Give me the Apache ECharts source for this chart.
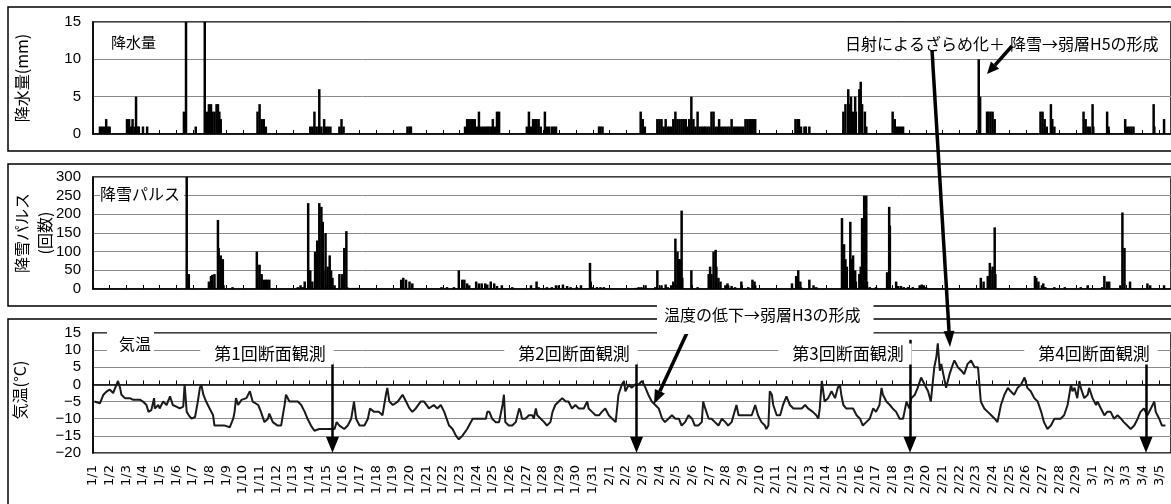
<!DOCTYPE html>
<html>
<head>
<meta charset="utf-8">
<script src="https://cdn.jsdelivr.net/npm/echarts@6/dist/echarts.min.js"></script>
<style>
	html,body{margin:0;padding:0;background:#fff;}
	#main{width:1171px;height:504px;}
</style>
</head>
<body>
<div id="main"></div>
<script>
// x is hours since 1/1 00:00, one tick per day
const dayLabels = ['1/1','1/2','1/3','1/4','1/5','1/6','1/7','1/8','1/9','1/10','1/11','1/12','1/13','1/14','1/15','1/16','1/17','1/18','1/19','1/20','1/21','1/22','1/23','1/24','1/25','1/26','1/27','1/28','1/29','1/30','1/31',
	'2/1','2/2','2/3','2/4','2/5','2/6','2/7','2/8','2/9','2/10','2/11','2/12','2/13','2/14','2/15','2/16','2/17','2/18','2/19','2/20','2/21','2/22','2/23','2/24','2/25','2/26','2/27','2/28','2/29',
	'3/1','3/2','3/3','3/4','3/5'];

// 降水量 (mm)
const precipHours = [10,13,16,19,22,24,
	49,52,55,57,60,62,65,66,72,78,
	131,134,148,161,164,167,170,172,175,178,180,182,184,
	237,240,243,246,249,
	313,316,319,322,325,326,329,333,336,339,342,
	355,358,361,
	453,456,458,
	536,539,542,545,547,550,553,556,559,562,565,568,570,573,576,579,582,585,
	625,628,631,634,637,639,642,645,651,654,657,661,664,667,
	729,731,734,
	789,792,795,
	813,816,819,822,825,828,830,833,836,839,842,845,848,851,854,857,859,862,865,868,
	871,874,877,880,882,885,888,891,894,897,900,902,905,908,911,914,917,920,923,925,
	928,931,934,937,940,943,946,948,951,954,
	1012,1015,1017,1020,1025,1027,1032,
	1081,1084,1088,1091,1092,1095,1098,1099,1104,1106,1108,1112,1114,
	1152,1155,1158,1161,1164,1167,
	1276,1278,
	1288,1290,1293,1296,1299,
	1365,1368,1371,1374,1380,1382,1385,
	1427,1430,1433,1436,1440,1441,
	1461,1463,
	1487,1490,1493,1496,1499,
	1528,1529,
	1543];
const precipValues = [1,1,1,2,1,1,
	2,2,1,2,1,5,1,1,1,1,
	3,20,1,20,3,4,4,3,3,4,4,3,2,
	3,4,2,2,1,
	1,1,3,1,1,6,1,2,1,1,1,
	1,2,1,
	1,1,1,
	1,2,2,2,2,2,1,3,1,1,1,1,1,1,2,1,3,3,
	1,3,1,2,2,2,2,1,3,1,1,1,1,1,
	1,1,1,
	3,2,1,
	2,2,2,1,2,1,1,1,2,3,2,2,2,2,2,1,2,5,2,1,
	3,1,1,1,1,1,1,3,3,1,1,2,1,1,1,1,1,2,1,1,
	1,1,1,1,2,2,2,2,2,2,
	2,2,2,1,1,1,1,
	3,4,6,4,5,3,5,3,6,7,4,3,1,
	3,2,1,1,1,1,
	10,5,
	3,3,3,3,2,
	3,3,2,1,4,2,1,
	3,2,1,1,4,1,
	3,1,
	2,1,1,1,1,
	4,1,
	2];

// 降雪パルス (回数)
const pulseHours = [135,138,
	167,170,172,175,180,181,184,187,188,201,
	236,237,240,243,246,249,251,254,
	295,299,302,305,310,313,316,320,323,326,329,331,332,335,338,341,343,345,348,355,359,362,365,366,369,374,378,382,
	444,447,451,456,460,502,510,520,527,532,535,539,542,552,556,560,565,568,573,578,582,589,604,
	631,639,642,654,661,667,671,677,683,688,697,703,716,717,720,726,731,736,
	782,786,790,796,810,813,819,825,828,833,836,839,842,844,846,848,849,
	862,871,
	887,889,891,894,897,898,901,904,911,914,915,920,925,934,944,950,953,954,
	1007,1013,1016,1019,1020,1032,1038,1042,
	1079,1082,1084,1086,1091,1092,1095,1098,1099,1104,1106,1108,1111,1114,1115,1119,1128,
	1144,1147,1148,1157,1160,1164,1168,1174,1181,1191,1194,1197,1200,
	1279,1283,1289,1292,1293,1296,1299,1300,
	1357,1359,1362,1367,1369,1372,1385,1400,
	1423,1433,1454,1457,1461,1464,
	1480,1483,1486,1494,1519,1523,1543];
const pulseValues = [400,40,
	20,35,38,40,185,110,90,80,10,5,
	100,65,65,40,25,25,25,25,
	5,10,5,20,230,50,20,100,130,230,220,180,50,150,60,90,50,30,10,40,40,110,155,5,3,3,3,3,
	25,30,25,20,15,5,5,5,50,25,25,15,10,20,15,15,15,12,20,15,8,10,5,
	10,20,5,5,5,10,10,12,8,5,5,10,70,20,5,5,5,5,
	3,5,5,10,5,50,10,12,5,10,20,135,100,80,80,210,30,
	50,5,
	40,60,40,100,105,60,30,20,10,15,10,8,5,20,5,25,20,10,
	15,35,50,20,5,25,10,5,
	190,120,80,60,180,80,90,50,20,40,60,190,250,250,20,5,5,
	45,220,170,20,8,8,5,5,5,10,12,10,5,
	30,20,35,70,50,60,165,40,
	35,30,20,10,15,5,5,5,
	5,10,5,35,20,20,
	10,205,110,20,15,10,10];

// 気温 (°C)
const tempHours = [2,10,15,20,24,29,34,36,39,41,46,53,58,68,72,77,80,84,88,89,
	94,96,101,106,111,115,120,125,130,132,135,138,142,147,151,154,156,159,163,168,
	173,175,180,185,190,197,202,204,206,209,214,221,226,230,238,242,247,252,254,259,
	266,271,276,278,283,288,295,300,305,309,314,319,326,336,343,348,351,355,362,367,
	372,376,379,384,391,396,399,405,412,417,422,424,427,432,439,
	446,451,456,460,465,472,477,484,491,496,501,506,513,518,523,527,532,539,547,556,
	566,568,571,575,580,585,590,592,594,599,604,609,614,616,618,623,628,633,635,638,
	640,645,650,654,659,662,666,671,676,681,685,690,695,700,707,712,714,719,724,729,
	733,738,743,748,753,757,762,765,767,772,776,781,786,791,793,796,800,805,810,815,
	820,824,829,834,839,844,848,853,858,863,867,872,877,879,882,887,891,896,901,906,
	911,915,920,927,930,935,939,944,949,954,958,963,968,970,973,975,
	978,980,985,990,994,999,1004,1009,1016,1021,1026,1030,1037,1042,1045,1047,1050,1054,1059,1064,
	1069,1073,1076,1078,1081,1085,1090,1095,1100,1105,1109,1114,1119,1124,1128,1133,1136,1138,1143,1148,
	1152,1157,1162,1167,1169,1172,1176,1179,1184,1188,1193,1198,1203,1207,1210,1212,1215,1217,1220,1222,
	1227,1229,1234,1239,1241,1246,1251,1255,1260,1265,1270,1275,1277,1279,1284,1289,1294,1299,1303,1308,
	1313,1318,1322,1327,1332,1337,1342,1346,1351,1356,1361,1366,1370,1375,1380,1385,1390,1394,1399,1404,
	1409,1411,1414,1418,1421,1423,1428,1433,1435,1440,1445,1447,1452,1457,1461,1466,1471,1476,1481,1485,
	1490,1495,1500,1505,1509,1514,1519,1524,1529,1531,1536,1540,1545];
const tempValues = [-5,-5.5,-3,-2,-1.5,-2.5,0,1,-1,-3,-4,-4,-4.5,-4.5,-5,-6,-8,-7.5,-4,-7,
	-6,-7,-5,-6,-3.5,-6,-6.5,-7,-6.5,0,-8,-9,-10,-9.5,-5,-1,0,-3,-5,-7,
	-9,-12,-12,-12,-12,-12.5,-10,-8,-4,-6,-4.5,-4,-2,-5,-6,-8,-11,-10,-8.5,-11,
	-12,-12,-6,-3,-5,-5,-5,-6,-8,-10,-12,-13.5,-13,-13,-13,-13,-11,-12,-13,-12,
	-10,-5,-10,-12,-12,-10,-7,-8,-8,-9,-3,-1,-5,-6,-5,
	-3,-5,-7,-8,-7,-5,-5,-7,-6,-7,-6,-8,-12,-13,-15,-16,-15,-13,-10,-10,
	-10,-8,-8,-10,-11,-11,-6,-3,-11,-12,-12,-11,-7,-8,-10,-10,-9,-9,-10,-7,
	-9,-10,-11,-12,-11,-8,-6,-5,-4,-5,-5,-7,-6,-7,-7,-5,-7,-8,-9,-9,
	-8,-7,-9,-10,-11,-3,0,1,-2,0,-1,0,0,1,1,-1,-3,-5,-6,-7,
	-10,-11,-10,-9,-10,-10,-12,-11,-9,-10,-12,-12,-11,-5,-7,-10,-10,-11,-12,-10,
	-11,-12,-11,-6,-9,-9,-9,-9,-9,-6,-9,-11,-12,-13,-12,-2,
	-3,-6,-9,-9,-6,-3.5,-6,-7,-7,-7,-6,-7,-8,-9,-10,-7,1,-5,-4,-2,
	-4,-1,0,-3,-6,-7,-7,-7,-9,-10,-12,-11,-10,-7,-8,-6,-1,-3,-5,-6,
	-7,-8,-10,-10,-8,-5,-7,-4,-3,-1,2,0,-2,-5,1,5,8,12,4,6,
	1,-1,3,6,7,5,4,3,6,7,5,5,0,-5,-7,-8,-9,-10,-11,-6,
	-3,-1,-2,-3,-1,0,2,-1,-2,-4,-5,-8,-11,-13,-12,-10,-10,-10,-9,-6,
	0,-2,-1,-4,1,-1,-4,-3,-1,-4,-6,-5,-7,-9,-8,-8,-10,-9,-10,-11,
	-12,-13,-12,-10,-8,-7,-9,-7,-5,-8,-10,-12,-12];

// 断面観測 (hour, arrow start temperature)
const surveyNames = ['第1回断面観測','第2回断面観測','第3回断面観測','第4回断面観測'];
const surveyHours = [345, 783, 1177, 1517];
const surveyTops = [6.5, 6.5, 13, 6.5];

const JP = '"Noto Sans CJK JP"';

function pairs(xs, ys){
	return xs.map(function(x, i){ return [x, ys[i]]; });
}

function arrow(x1, y1, x2, y2, lw, hl, hw){
	let a = Math.atan2(y2 - y1, x2 - x1);
	let bx = x2 - hl * Math.cos(a), by = y2 - hl * Math.sin(a);
	let px = -Math.sin(a) * hw / 2, py = Math.cos(a) * hw / 2;
	return [
		{type:'line', z:100, shape:{x1:x1, y1:y1, x2:bx, y2:by}, style:{stroke:'#000', lineWidth:lw}},
		{type:'polygon', z:100, shape:{points:[[x2, y2], [bx + px, by + py], [bx - px, by - py]]}, style:{fill:'#000'}}
	];
}

function txt(x, y, text, size, extra){
	let st = {text:text, font:size + 'px ' + JP, fill:'#000', textAlign:'left', textVerticalAlign:'middle'};
	Object.assign(st, extra || {});
	return {type:'text', z:101, x:x, y:y, style:st};
}

function xAxis(gi, showLabel){
	return {
		type:'value', gridIndex:gi, min:0, max:1553, interval:24,
		axisLine:{lineStyle:{color:'#000', width:1.5}},
		axisTick:{inside:true, length:4, lineStyle:{color:'#000'}},
		splitLine:{show:false},
		axisLabel:{
			show:showLabel, rotate:90, margin:12, fontSize:13, fontFamily:'DejaVu Sans', color:'#000',
			formatter:function(v){ return v % 24 === 0 ? (dayLabels[v / 24] || '') : ''; }
		}
	};
}

function yAxis(gi, min, max, step){
	return {
		type:'value', gridIndex:gi, min:min, max:max, interval:step,
		axisLine:{show:true, lineStyle:{color:'#000', width:1.5}},
		axisTick:{show:false},
		splitLine:{lineStyle:{color:'#8a8a8a', width:1}},
		axisLabel:{
			margin:12, fontSize:15, fontFamily:'Liberation Sans', color:'#000',
			formatter:function(v){ return String(v).replace('-', '\u2212'); }
		}
	};
}

let chart = echarts.init(document.getElementById('main'));

let graphics = [
	// panel frames
	{type:'rect', z:1, shape:{x:8, y:7, width:1200, height:144}, style:{fill:'none', stroke:'#000', lineWidth:1.5}},
	{type:'rect', z:1, shape:{x:8, y:164, width:1200, height:142}, style:{fill:'none', stroke:'#000', lineWidth:1.5}},
	{type:'rect', z:1, shape:{x:8, y:319, width:1200, height:220}, style:{fill:'none', stroke:'#000', lineWidth:1.5}},
	// axis names
	{type:'text', z:101, x:22, y:78, rotation:Math.PI / 2, style:{text:'降水量(mm)', font:'16px ' + JP, fill:'#000', textAlign:'center', textVerticalAlign:'middle'}},
	{type:'text', z:101, x:33, y:233, rotation:Math.PI / 2, style:{text:'降雪パルス\n(回数)', font:'16px ' + JP, lineHeight:23, fill:'#000', textAlign:'center', textVerticalAlign:'middle'}},
	{type:'text', z:101, x:20, y:390, rotation:Math.PI / 2, style:{text:'気温(°C)', font:'16px ' + JP, fill:'#000', textAlign:'center', textVerticalAlign:'middle'}},
	// panel titles
	txt(111, 42, '降水量', 15),
	txt(100, 194, '降雪パルス', 16, {backgroundColor:'#fff', padding:[1, 4, 1, 0]}),
	txt(107, 344, '気温', 16, {backgroundColor:'#fff', padding:[2, 3, 6, 12]}),
	// notes
	txt(845, 44, '日射によるざらめ化＋', 16),
	txt(1010, 44, '降雪→弱層H5の形成', 16),
	txt(657, 315, '温度の低下→弱層H3の形成', 16, {backgroundColor:'#fff', padding:[12, 13, 10, 7]})
];
surveyNames.forEach(function(n, i){
	let cx = [267, 571, 845, 1091][i];
	graphics.push({type:'text', z:101, x:cx, y:354, style:{text:n, font:'17px ' + JP, fill:'#000', textAlign:'center', textVerticalAlign:'middle', backgroundColor:'#fff', padding:[2, 8, 2, 14]}});
});
graphics = graphics.concat(
	arrow(932, 50, 950, 347, 3.5, 16, 11),
	arrow(1012, 46, 987, 74, 3.5, 12, 11),
	arrow(692, 322, 654, 404, 3.5, 14, 11)
);

let option = {
	animation:false,
	backgroundColor:'#fff',
	grid:[
		{left:93, width:1081, top:22, height:112, show:true, borderColor:'#000', borderWidth:1.5},
		{left:93, width:1081, top:177, height:112, show:true, borderColor:'#000', borderWidth:1.5},
		{left:93, width:1081, top:333, height:120, show:true, borderColor:'#000', borderWidth:1.5}
	],
	xAxis:[xAxis(0, false), xAxis(1, false), xAxis(2, true)],
	yAxis:[yAxis(0, 0, 15, 5), yAxis(1, 0, 300, 50), yAxis(2, -20, 15, 5)],
	series:[
		{
			name:'降水量', type:'bar', xAxisIndex:0, yAxisIndex:0, silent:true,
			barWidth:2.5, itemStyle:{color:'#000'},
			data:pairs(precipHours, precipValues)
		},
		{
			name:'降雪パルス', type:'bar', xAxisIndex:1, yAxisIndex:1, silent:true,
			barWidth:2.5, itemStyle:{color:'#000'},
			data:pairs(pulseHours, pulseValues)
		},
		{
			name:'気温', type:'line', xAxisIndex:2, yAxisIndex:2, silent:true,
			showSymbol:false, symbol:'none',
			lineStyle:{color:'#1a1a1a', width:2},
			data:pairs(tempHours, tempValues),
			markLine:{
				silent:true, animation:false,
				symbol:['none', 'triangle'], symbolSize:[13, 16],
				label:{show:false},
				lineStyle:{color:'#000', width:2.5, type:'solid'},
				emphasis:{disabled:true},
				data:surveyHours.map(function(h, i){
					return [{coord:[h, surveyTops[i]]}, {coord:[h, -17.6]}];
				})
			}
		}
	],
	graphic:{elements:graphics}
};

chart.setOption(option);
</script>
</body>
</html>
